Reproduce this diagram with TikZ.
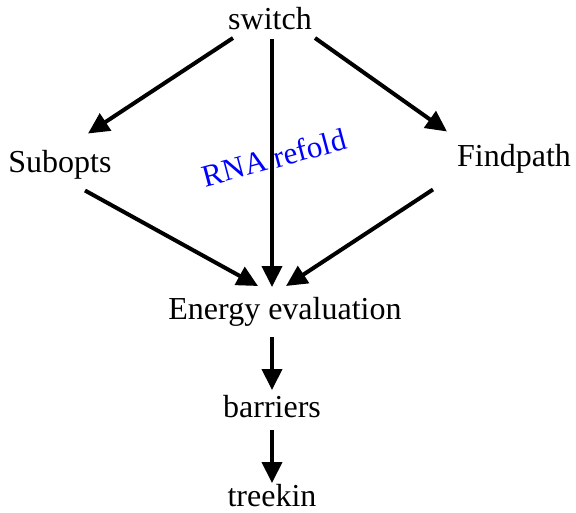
\documentclass[tikz,border=0pt]{standalone}
\usepackage{fontspec}
\setmainfont{Liberation Serif}
\usetikzlibrary{arrows.meta,calc}
\begin{document}
\begin{tikzpicture}[x=1pt,y=-1pt,
  lbl/.style={inner sep=0pt,anchor=base,font=\fontsize{32}{36}\selectfont},
  arr/.style={line width=4pt,-{Triangle[length=21pt,width=20pt]}}]
\useasboundingbox (0,0) rectangle (576,512);
\node[lbl] (sw) at (270,29) {switch};
\node[lbl] (sub) at (60,172.5) {Subopts};
\node[lbl] (fp) at (514,166.5) {Findpath};
\node[lbl] (en) at (285,319) {Energy evaluation};
\node[lbl] (ba) at (272,417) {barriers};
\node[lbl] (tr) at (272,506) {treekin};
\node[lbl,text=blue,rotate=15,font=\fontsize{31}{36}\selectfont] (rr) at (277,168) {RNA refold};
\draw[arr] ($(sw.base)+(-37,9)$) -- ($(sub.base)+(28,-39)$);
\draw[arr] ($(sw.base)+(45,9)$) -- ($(fp.base)+(-67,-35)$);
\draw[arr] ($(sw.base)+(2,10)$) -- ($(en.base)+(-13,-32)$);
\draw[arr] ($(sub.base)+(25,18)$) -- ($(en.base)+(-27,-33)$);
\draw[arr] ($(fp.base)+(-81,23)$) -- ($(en.base)+(1,-33)$);
\draw[arr] ($(en.base)+(-13,18)$) -- ($(ba.base)+(0,-27)$);
\draw[arr] ($(ba.base)+(0,13)$) -- ($(tr.base)+(0,-23)$);
\end{tikzpicture}
\end{document}
